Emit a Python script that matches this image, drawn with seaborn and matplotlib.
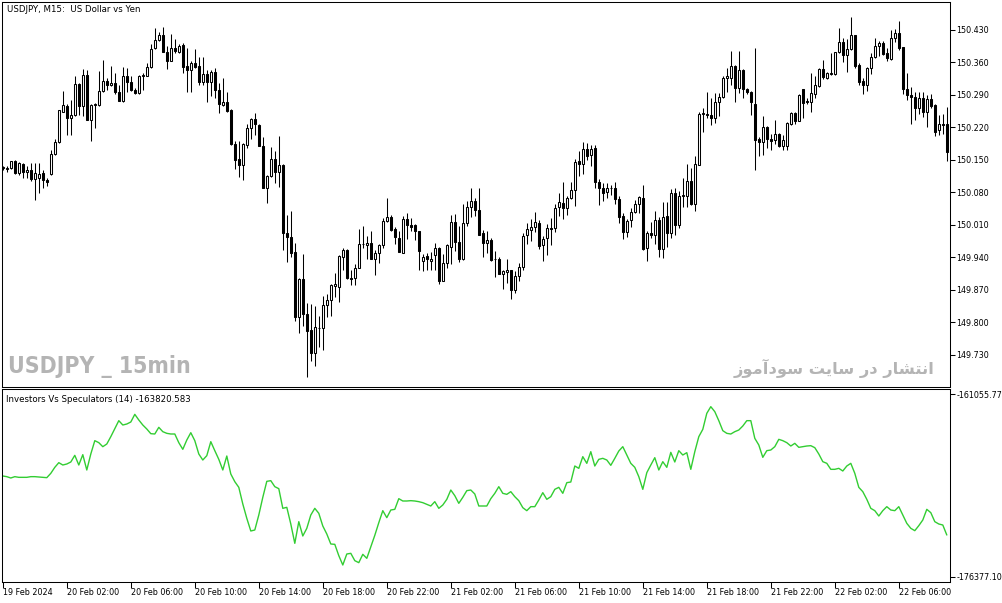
import numpy as np
import pandas as pd
import matplotlib
matplotlib.use("Agg")
import matplotlib.pyplot as plt
import seaborn as sns

sns.set_style("white")
plt.rcParams['font.family'] = ['DejaVu Sans']

# USDJPY M15 candles, 19 Feb 22:00 -> 22 Feb ~09:00
opens = [150.133, 150.131, 150.133, 150.147, 150.122, 150.142, 150.124, 150.129, 150.109, 150.110,
         150.122, 150.106, 150.120, 150.163, 150.189, 150.254, 150.267, 150.240, 150.247, 150.313,
         150.265, 150.332, 150.235, 150.269, 150.269, 150.299, 150.320, 150.312, 150.315, 150.296,
         150.276, 150.330, 150.317, 150.301, 150.294, 150.331, 150.331, 150.350, 150.390, 150.408,
         150.419, 150.383, 150.362, 150.390, 150.383, 150.398, 150.353, 150.344, 150.358, 150.352,
         150.317, 150.335, 150.317, 150.339, 150.301, 150.269, 150.274, 150.258, 150.184, 150.151,
         150.138, 150.183, 150.219, 150.239, 150.226, 150.181, 150.090, 150.115, 150.153, 150.123,
         150.140, 149.993, 149.985, 149.951, 149.812, 149.893, 149.819, 149.783, 149.735, 149.788,
         149.788, 149.838, 149.848, 149.879, 149.876, 149.941, 149.957, 149.896, 149.896, 149.918,
         149.968, 149.967, 149.970, 149.937, 149.950, 149.966, 150.018, 150.028, 150.002, 149.982,
         149.950, 150.022, 150.010, 150.009, 149.996, 149.932, 149.944, 149.932, 149.945, 149.961,
         149.889, 149.929, 149.963, 150.017, 149.973, 149.937, 150.015, 150.049, 150.062, 150.043,
         149.992, 149.971, 149.977, 149.936, 149.937, 149.905, 149.909, 149.914, 149.870, 149.899,
         149.920, 149.989, 150.000, 150.006, 150.015, 149.967, 149.982, 150.004, 150.004, 150.048,
         150.057, 150.047, 150.068, 150.085, 150.148, 150.141, 150.173, 150.160, 150.176, 150.102,
         150.090, 150.081, 150.090, 150.090, 150.066, 150.030, 149.994, 150.020, 150.038, 150.055,
         150.068, 149.961, 149.993, 149.988, 150.020, 149.958, 150.030, 149.992, 150.079, 150.010,
         150.073, 150.072, 150.105, 150.054, 150.138, 150.249, 150.249, 150.247, 150.240, 150.274,
         150.285, 150.326, 150.326, 150.352, 150.304, 150.344, 150.303, 150.297, 150.270, 150.195,
         150.189, 150.221, 150.195, 150.192, 150.206, 150.181, 150.181, 150.227, 150.251, 150.233,
         150.302, 150.277, 150.274, 150.292, 150.310, 150.346, 150.327, 150.336, 150.335, 150.382,
         150.403, 150.376, 150.389, 150.419, 150.355, 150.319, 150.312, 150.347, 150.371, 150.395,
         150.401, 150.380, 150.367, 150.412, 150.423, 150.393, 150.302, 150.290, 150.286, 150.262,
         150.284, 150.254, 150.281, 150.269, 150.214, 150.227, 150.227]

highs = [150.136, 150.136, 150.148, 150.150, 150.145, 150.143, 150.136, 150.143, 150.143, 150.143,
         150.129, 150.111, 150.172, 150.194, 150.258, 150.299, 150.270, 150.279, 150.331, 150.315,
         150.345, 150.344, 150.270, 150.272, 150.342, 150.365, 150.326, 150.352, 150.337, 150.312,
         150.350, 150.347, 150.330, 150.304, 150.333, 150.337, 150.358, 150.399, 150.433, 150.426,
         150.436, 150.396, 150.421, 150.410, 150.400, 150.401, 150.390, 150.363, 150.389, 150.372,
         150.372, 150.344, 150.344, 150.347, 150.315, 150.326, 150.296, 150.259, 150.190, 150.191,
         150.186, 150.227, 150.241, 150.251, 150.227, 150.200, 150.118, 150.177, 150.170, 150.202,
         150.142, 150.032, 150.041, 149.970, 149.896, 149.947, 149.841, 149.839, 149.836, 149.813,
         149.856, 149.862, 149.882, 149.906, 149.945, 149.961, 149.959, 149.912, 149.925, 150.002,
         150.007, 149.987, 149.996, 149.957, 149.968, 150.025, 150.069, 150.032, 150.006, 149.997,
         150.030, 150.036, 150.024, 150.011, 149.997, 149.947, 149.949, 149.951, 149.971, 149.963,
         149.947, 149.969, 150.032, 150.034, 150.007, 150.056, 150.062, 150.090, 150.069, 150.090,
         149.998, 149.997, 149.981, 149.953, 149.940, 149.912, 149.936, 149.914, 149.910, 149.928,
         149.993, 150.015, 150.022, 150.037, 150.020, 149.987, 150.011, 150.024, 150.055, 150.078,
         150.103, 150.072, 150.103, 150.151, 150.170, 150.189, 150.187, 150.183, 150.183, 150.108,
         150.101, 150.101, 150.097, 150.103, 150.073, 150.035, 150.022, 150.047, 150.064, 150.073,
         150.095, 149.997, 150.017, 150.039, 150.028, 150.060, 150.060, 150.088, 150.089, 150.083,
         150.110, 150.142, 150.133, 150.159, 150.254, 150.262, 150.296, 150.284, 150.294, 150.294,
         150.331, 150.347, 150.385, 150.355, 150.385, 150.346, 150.304, 150.299, 150.390, 150.199,
         150.244, 150.224, 150.206, 150.235, 150.208, 150.203, 150.231, 150.254, 150.254, 150.292,
         150.303, 150.283, 150.337, 150.331, 150.347, 150.365, 150.340, 150.381, 150.383, 150.433,
         150.412, 150.410, 150.457, 150.420, 150.358, 150.326, 150.351, 150.381, 150.412, 150.405,
         150.405, 150.390, 150.430, 150.432, 150.449, 150.394, 150.337, 150.306, 150.296, 150.296,
         150.296, 150.290, 150.292, 150.270, 150.246, 150.249, 150.263]

lows = [150.128, 150.125, 150.131, 150.120, 150.118, 150.111, 150.111, 150.104, 150.063, 150.079,
        150.090, 150.093, 150.118, 150.161, 150.187, 150.253, 150.204, 150.204, 150.244, 150.247,
        150.244, 150.235, 150.190, 150.219, 150.267, 150.296, 150.301, 150.310, 150.292, 150.276,
        150.274, 150.297, 150.299, 150.292, 150.292, 150.301, 150.330, 150.347, 150.389, 150.406,
        150.383, 150.345, 150.362, 150.380, 150.380, 150.337, 150.296, 150.297, 150.347, 150.312,
        150.312, 150.274, 150.287, 150.283, 150.251, 150.267, 150.254, 150.183, 150.131, 150.113,
        150.106, 150.176, 150.194, 150.204, 150.179, 150.090, 150.057, 150.113, 150.100, 150.091,
        149.957, 149.931, 149.941, 149.803, 149.778, 149.793, 149.683, 149.717, 149.707, 149.748,
        149.741, 149.812, 149.814, 149.855, 149.845, 149.914, 149.893, 149.881, 149.881, 149.918,
        149.961, 149.936, 149.936, 149.902, 149.927, 149.961, 150.017, 149.997, 149.968, 149.951,
        149.949, 149.979, 149.997, 149.977, 149.914, 149.911, 149.914, 149.914, 149.912, 149.882,
        149.889, 149.918, 149.926, 149.954, 149.930, 149.934, 150.007, 150.028, 150.030, 149.988,
        149.941, 149.949, 149.932, 149.898, 149.904, 149.873, 149.885, 149.851, 149.863, 149.889,
        149.914, 149.968, 149.975, 149.994, 149.958, 149.932, 149.945, 149.967, 149.994, 150.030,
        150.022, 150.032, 150.065, 150.050, 150.116, 150.120, 150.149, 150.136, 150.089, 150.052,
        150.061, 150.067, 150.074, 150.054, 150.014, 149.979, 149.984, 150.006, 150.035, 150.036,
        149.957, 149.932, 149.981, 149.969, 149.940, 149.939, 149.962, 149.982, 149.988, 150.003,
        150.048, 150.048, 150.052, 150.040, 150.138, 150.211, 150.241, 150.226, 150.229, 150.244,
        150.284, 150.297, 150.312, 150.274, 150.295, 150.283, 150.292, 150.246, 150.128, 150.158,
        150.161, 150.176, 150.172, 150.185, 150.178, 150.172, 150.172, 150.226, 150.228, 150.233,
        150.241, 150.270, 150.254, 150.284, 150.308, 150.325, 150.325, 150.333, 150.333, 150.380,
        150.360, 150.339, 150.387, 150.347, 150.312, 150.292, 150.299, 150.335, 150.369, 150.374,
        150.376, 150.364, 150.365, 150.403, 150.386, 150.292, 150.279, 150.228, 150.235, 150.249,
        150.242, 150.221, 150.262, 150.201, 150.203, 150.206, 150.147]

closes = [150.134, 150.133, 150.147, 150.122, 150.143, 150.125, 150.129, 150.109, 150.122, 150.120,
          150.106, 150.103, 150.163, 150.189, 150.257, 150.269, 150.240, 150.247, 150.313, 150.265,
          150.332, 150.235, 150.269, 150.270, 150.299, 150.320, 150.312, 150.315, 150.296, 150.277,
          150.330, 150.317, 150.301, 150.293, 150.330, 150.332, 150.350, 150.389, 150.408, 150.419,
          150.383, 150.362, 150.390, 150.385, 150.396, 150.350, 150.344, 150.358, 150.349, 150.317,
          150.335, 150.317, 150.339, 150.301, 150.270, 150.274, 150.256, 150.184, 150.149, 150.138,
          150.185, 150.219, 150.239, 150.227, 150.179, 150.090, 150.116, 150.151, 150.123, 150.140,
          149.992, 149.984, 149.949, 149.812, 149.893, 149.819, 149.782, 149.735, 149.791, 149.789,
          149.837, 149.848, 149.880, 149.882, 149.942, 149.957, 149.895, 149.893, 149.918, 149.968,
          149.969, 149.970, 149.937, 149.950, 149.966, 150.019, 150.028, 150.000, 149.984, 149.951,
          150.022, 150.010, 150.006, 149.997, 149.954, 149.941, 149.937, 149.937, 149.961, 149.889,
          149.929, 149.966, 150.017, 149.973, 149.937, 150.015, 150.049, 150.062, 150.042, 149.989,
          149.971, 149.977, 149.934, 149.937, 149.905, 149.910, 149.914, 149.870, 149.899, 149.920,
          149.987, 150.002, 150.006, 150.017, 149.964, 149.980, 150.004, 150.002, 150.047, 150.060,
          150.047, 150.067, 150.086, 150.146, 150.141, 150.173, 150.158, 150.173, 150.102, 150.090,
          150.079, 150.090, 150.089, 150.066, 150.027, 149.994, 150.019, 150.038, 150.055, 150.070,
          149.959, 149.993, 149.988, 150.020, 149.958, 150.028, 149.992, 150.079, 150.010, 150.073,
          150.074, 150.104, 150.054, 150.141, 150.249, 150.250, 150.246, 150.240, 150.274, 150.285,
          150.326, 150.330, 150.352, 150.304, 150.344, 150.302, 150.296, 150.274, 150.192, 150.189,
          150.221, 150.194, 150.191, 150.206, 150.181, 150.192, 150.229, 150.251, 150.233, 150.289,
          150.272, 150.274, 150.294, 150.312, 150.346, 150.328, 150.338, 150.337, 150.382, 150.403,
          150.376, 150.389, 150.419, 150.353, 150.317, 150.312, 150.347, 150.371, 150.395, 150.401,
          150.378, 150.369, 150.412, 150.423, 150.392, 150.302, 150.289, 150.286, 150.262, 150.284,
          150.254, 150.281, 150.265, 150.211, 150.227, 150.226, 150.168]

# Investors Vs Speculators (14)
ivs = [-167932, -167988, -168100, -167988, -168044, -168044, -168044, -167988, -167988, -168016,
       -168044, -168072, -167709, -167206, -166814, -167010, -166926, -166758, -166199, -167010,
       -166143, -167429, -166088, -164969, -165137, -165473, -165249, -164634, -163963, -163292,
       -163656, -163572, -163404, -162761, -163236, -163656, -163991, -164382, -164410, -163851,
       -164215, -164354, -164410, -164410, -165137, -165696, -164914, -164299, -164969, -166088,
       -166591, -166227, -165053, -165808, -166535, -167429, -166255, -167765, -168408, -168883,
       -170280, -171482, -172545, -172461, -171203, -169721, -168380, -168324, -168827, -168995,
       -170644, -170560, -171958, -173579, -171762, -172964, -172321, -171203, -170644, -171063,
       -172125, -172796, -173635, -173663, -174613, -175396, -174473, -174418, -175032, -175200,
       -174501, -174837, -173859, -172908, -171846, -170840, -171427, -170784, -170728, -169833,
       -170029, -170029, -170001, -170029, -170085, -170169, -170309, -170448, -170085, -170644,
       -170364, -169889, -169107, -169582, -170225, -169721, -169162, -169107, -169442, -170448,
       -170448, -170448, -169833, -169386, -168827, -169386, -169470, -169246, -169666, -170001,
       -170588, -170840, -170504, -170504, -169945, -169330, -169889, -169666, -169051, -168883,
       -169386, -168492, -168436, -167094, -167290, -166311, -166870, -165892, -167094, -166535,
       -166451, -166591, -167038, -166451, -165836, -165473, -166171, -166870, -167206, -167988,
       -169051, -167653, -167010, -166395, -167429, -166731, -167206, -165948, -166758, -165808,
       -166171, -165976, -167373, -165892, -164634, -164019, -162677, -162118, -162538, -163292,
       -164131, -164354, -164410, -164215, -164075, -163740, -163292, -163292, -164774, -165333,
       -166367, -165808, -165752, -165473, -164858, -164969, -165137, -165417, -165193, -165529,
       -165473, -165417, -165389, -165556, -166088, -166731, -166870, -167373, -167373, -167290,
       -167513, -167094, -166870, -167709, -168883, -169246, -169889, -170644, -170840, -171287,
       -170840, -170504, -170784, -170840, -170504, -171203, -171902, -172321, -172517, -172097,
       -171622, -170728, -171007, -171762, -171958, -172042, -172880]

time_tick_pos = [0, 16, 32, 48, 64, 80, 96, 112, 128, 144, 160, 176, 192, 208, 224]
time_tick_labels = ["19 Feb 2024", "20 Feb 02:00", "20 Feb 06:00", "20 Feb 10:00", "20 Feb 14:00",
                    "20 Feb 18:00", "20 Feb 22:00", "21 Feb 02:00", "21 Feb 06:00", "21 Feb 10:00",
                    "21 Feb 14:00", "21 Feb 18:00", "21 Feb 22:00", "22 Feb 02:00", "22 Feb 06:00"]
price_ticks = [150.430, 150.360, 150.290, 150.220, 150.150, 150.080, 150.010,
               149.940, 149.870, 149.800, 149.730]
ivs_ticks = [-161055.771, -176377.105]

df = pd.DataFrame({"open": opens, "high": highs, "low": lows, "close": closes, "ivs": ivs})
df["bar"] = np.arange(len(df))

W, H = 1003, 603
fig = plt.figure(figsize=(W / 100, H / 100), dpi=100)
fig.patch.set_facecolor("white")
ax = fig.add_axes([2 / W, 1 - 387 / H, 948 / W, 385 / H])
ax2 = fig.add_axes([2 / W, 1 - 582 / H, 948 / W, 193 / H])

TICK_FS = 5.8
LW = 0.75

# candles
up = df["close"] >= df["open"]
ax.vlines(df["bar"], df["low"], df["high"], color="black", linewidth=LW, zorder=1)
ax.bar(df["bar"], (df["close"] - df["open"]).abs(), bottom=df[["open", "close"]].min(axis=1),
       width=0.55, color=np.where(up, "white", "black"), edgecolor="black",
       linewidth=LW, zorder=2)
ax.set_xlim(-0.2, 236.8)
ax.set_ylim(149.661, 150.490)
ax.set_xticks([])
ax.yaxis.tick_right()
ax.set_yticks(price_ticks)
ax.set_yticklabels(["%.3f" % v for v in price_ticks])
ax.tick_params(axis="y", left=False, right=True, labelleft=False, labelright=True,
               direction="out", length=3.5, width=LW, pad=1.2, labelsize=TICK_FS, colors="black")

# indicator
sns.lineplot(x=df["bar"], y=df["ivs"], ax=ax2, color="#32cd32", linewidth=1.0)
ax2.set_xlim(-0.2, 236.8)
ax2.set_ylim(-176822, -160636)
ax2.set_xlabel("")
ax2.set_ylabel("")
ax2.yaxis.tick_right()
ax2.set_yticks(ivs_ticks)
ax2.set_yticklabels(["-161055.771", "-176377.105"])
ax2.tick_params(axis="y", left=False, right=True, labelleft=False, labelright=True,
                direction="out", length=3.5, width=LW, pad=1.2, labelsize=TICK_FS, colors="black")
ax2.set_xticks(time_tick_pos)
ax2.set_xticklabels(time_tick_labels)
ax2.tick_params(axis="x", bottom=True, direction="out", length=4, width=LW, pad=0.5,
                labelsize=TICK_FS, colors="black")
for lbl in ax2.get_xticklabels():
    lbl.set_horizontalalignment("left")

for a in (ax, ax2):
    a.set_facecolor("white")
    for s in a.spines.values():
        s.set_visible(True)
        s.set_color("black")
        s.set_linewidth(LW)

fig.text(7 / W, 1 - 9.5 / H, "USDJPY, M15:  US Dollar vs Yen", fontsize=6.2,
         ha="left", va="center", color="black")
fig.text(6 / W, 1 - 399 / H, "Investors Vs Speculators (14) -163820.583", fontsize=6.2,
         ha="left", va="center", color="black")

# watermarks
fig.text(8 / W, 1 - 367 / H, "USDJPY _ 15min", fontsize=16.5, fontweight="bold",
         family=["DejaVu Sans"], fontstretch="condensed", color="#b4b4b4",
         ha="left", va="center")
shaped = ("\uFE8D\uFEE7\uFE98\uFEB8\uFE8E\uFEAD" + " " + "\uFEA9\uFEAD" + " "
          + "\uFEB3\uFE8E\uFBFE\uFE96" + " " + "\uFEB3\uFEEE\uFEA9\uFE81\uFEE3\uFEEE\uFEAF")
fig.text(935 / W, 1 - 368 / H, shaped[::-1], fontsize=11.7, fontweight="bold",
         family=["DejaVu Sans"], color="#b4b4b4", ha="right", va="center")

fig.savefig("out.png", dpi=100, facecolor="white")
